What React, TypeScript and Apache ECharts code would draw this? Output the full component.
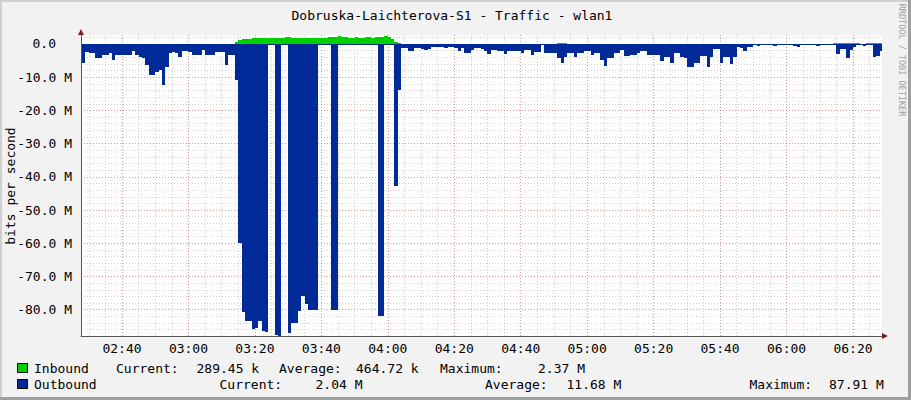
import React, { useEffect, useRef } from 'react';
import * as echarts from 'echarts';

// one sample per minute, first one at 02:28 (minutes since midnight)
const startMinute = 148;

// inbound traffic, Mbit/s
const inbound = [
    0.12, 0.1, 0.1, 0.11, 0.1, 0.12, 0.1, 0.1, 0.09, 0.1,
    0.1, 0.11, 0.1, 0.1, 0.12, 0.1, 0.1, 0.1, 0.11, 0.1,
    0.1, 0.12, 0.1, 0.1, 0.1, 0.11, 0.1, 0.1, 0.1, 0.12,
    0.1, 0.1, 0.11, 0.1, 0.1, 0.1, 0.12, 0.1, 0.1, 0.1,
    0.1, 0.1, 0.1, 0.12, 0.1, 0.1, 0.6, 1.3, 1.5, 1.6,
    1.6, 1.7, 1.7, 1.8, 1.8, 1.7, 1.7, 1.8, 1.8, 1.9,
    1.9, 2.0, 2.0, 1.9, 1.8, 1.8, 1.7, 1.7, 1.8, 1.8,
    1.8, 1.9, 1.9, 1.9, 2.0, 2.1, 2.2, 2.37, 2.2, 2.0,
    1.9, 1.9, 2.0, 1.9, 1.9, 2.0, 2.0, 1.9, 2.0, 2.0,
    2.1, 2.3, 2.2, 1.6, 0.5, 0.2, 0.1, 0.1, 0.12, 0.1,
    0.1, 0.1, 0.11, 0.1, 0.1, 0.12, 0.1, 0.1, 0.1, 0.11,
    0.1, 0.1, 0.12, 0.1, 0.1, 0.1, 0.11, 0.1, 0.1, 0.1,
    0.12, 0.1, 0.1, 0.1, 0.11, 0.1, 0.1, 0.12, 0.1, 0.1,
    0.1, 0.11, 0.1, 0.1, 0.1, 0.12, 0.1, 0.1, 0.1, 0.1,
    0.1, 0.1, 0.12, 0.3, 0.35, 0.15, 0.1, 0.1, 0.1, 0.1,
    0.1, 0.11, 0.1, 0.1, 0.12, 0.1, 0.1, 0.1, 0.11, 0.1,
    0.1, 0.12, 0.1, 0.1, 0.1, 0.11, 0.1, 0.1, 0.1, 0.12,
    0.1, 0.1, 0.11, 0.1, 0.1, 0.1, 0.12, 0.1, 0.1, 0.1,
    0.11, 0.1, 0.1, 0.12, 0.1, 0.1, 0.1, 0.11, 0.1, 0.1,
    0.1, 0.12, 0.1, 0.1, 0.1, 0.11, 0.1, 0.1, 0.12, 0.1,
    0.1, 0.1, 0.11, 0.1, 0.1, 0.1, 0.12, 0.1, 0.1, 0.1,
    0.11, 0.1, 0.1, 0.12, 0.1, 0.1, 0.1, 0.11, 0.1, 0.1,
    0.1, 0.1, 0.12, 0.1, 0.1, 0.1, 0.15, 0.2, 0.3, 0.35,
    0.4, 0.4, 0.3, 0.15, 0.1, 0.12, 0.2, 0.35, 0.4, 0.4,
    0.29,
];

// outbound traffic, Mbit/s (rrdtool draws it below zero)
const outbound = [
    5.8, 2.3, 2.8, 2.8, 4.3, 4.2, 3.3, 3.3, 2.8, 4.8,
    3.3, 3.3, 3.4, 3.3, 3.3, 2.0, 3.3, 4.0, 4.2, 6.3,
    9.3, 9.2, 8.3, 7.8, 12.3, 6.8, 2.6, 2.4, 2.7, 4.0,
    2.0, 2.0, 2.4, 3.3, 3.3, 3.2, 1.8, 3.3, 3.3, 3.2,
    2.3, 2.4, 2.3, 6.3, 3.3, 3.3, 10.8, 59.8, 80.8, 83.3,
    83.5, 85.8, 85.5, 83.3, 86.3, 86.8, 0.3, 0.3, 87.6, 87.91,
    0.3, 0.3, 86.9, 84.0, 84.0, 80.3, 75.8, 78.3, 80.1, 80.1,
    80.1, 0.3, 0.3, 0.3, 0.3, 80.0, 80.0, 0.3, 0.3, 0.3,
    0.3, 0.3, 0.3, 0.3, 0.3, 0.3, 0.3, 0.3, 0.3, 82.0,
    82.0, 0.3, 0.3, 0.3, 42.8, 14.0, 1.3, 1.3, 2.0, 2.0,
    1.3, 1.3, 1.5, 1.8, 1.5, 1.0, 1.0, 1.0, 1.0, 1.1,
    0.9, 1.0, 1.2, 2.0, 1.3, 2.8, 2.6, 1.8, 1.3, 1.3,
    1.5, 2.0, 3.0, 1.8, 1.8, 2.0, 2.0, 3.0, 2.0, 2.0,
    2.1, 2.0, 2.6, 1.8, 1.8, 3.3, 2.3, 2.3, 0.3, 2.6,
    2.6, 2.6, 2.7, 4.3, 5.8, 3.8, 2.8, 2.8, 4.0, 2.6,
    2.6, 2.0, 2.0, 3.3, 2.6, 2.6, 4.8, 6.6, 4.3, 4.3,
    2.8, 2.8, 1.8, 3.6, 3.6, 3.3, 3.3, 2.8, 2.0, 2.0,
    3.3, 3.3, 3.3, 3.3, 5.0, 3.8, 3.8, 5.6, 2.8, 2.8,
    4.0, 4.3, 7.0, 7.0, 5.8, 5.8, 3.6, 3.6, 6.8, 3.8,
    1.6, 1.6, 5.8, 3.8, 3.8, 6.0, 3.8, 0.8, 1.3, 2.0,
    0.8, 0.8, 0.4, 0.5, 0.4, 0.4, 0.3, 0.4, 0.5, 0.4,
    0.4, 0.3, 0.4, 0.4, 0.5, 1.0, 0.4, 0.4, 0.3, 0.4,
    0.4, 0.5, 0.4, 0.4, 0.3, 0.4, 0.4, 3.0, 1.6, 1.6,
    4.3, 1.8, 1.0, 0.4, 0.4, 0.5, 0.4, 0.4, 4.0, 3.5,
    2.04,
];

const inboundStats = ['289.45 k', '464.72 k', '2.37 M'];
const outboundStats = ['2.04 M', '11.68 M', '87.91 M'];

// visible window: 02:27:40 .. 06:28:44, and the y range rrdtool picked
const xMin = 147.66;
const xMax = 388.73;
const yMin = -87.91;
const yMax = 2.7;

const mono = "'DejaVu Sans Mono', monospace";

const pad = (n: number) => String(n).padStart(2, '0');
const isStep = (v: number, step: number) => Math.abs(v - Math.round(v / step) * step) < 1e-6;

const toSeries = (values: number[], sign: number) => values.map((v, i) => [startMinute + i, sign * v]);

// rrdtool AREA: each sample fills its whole minute, snapped to pixels
function stepArea(color: string) {
    return (params: any, api: any) => {
        const t = api.value(0);
        const v = api.value(1);
        const a = api.coord([t, 0]);
        const b = api.coord([t + 1, v]);
        const x0 = Math.round(a[0]);
        const x1 = Math.round(b[0]);
        const y0 = Math.round(a[1]);
        const y1 = Math.round(b[1]);
        return {
            type: 'rect',
            shape: { x: x0, y: Math.min(y0, y1), width: x1 - x0, height: Math.abs(y1 - y0) },
            style: { fill: color },
        };
    };
}

const majorGrid = {
    show: true,
    showMinLine: false,
    showMaxLine: false,
    lineStyle: { color: 'rgba(222,79,79,0.45)', width: 1, type: [1, 2] },
};
const minorGrid = {
    show: true,
    showMinLine: false,
    showMaxLine: false,
    lineStyle: { color: 'rgba(143,143,143,0.4)', width: 1, type: [1, 2] },
};

function legendRow(y: number, color: string, name: string, cols: [string, number][]) {
    const txt = (text: string, x: number) => ({
        type: 'text',
        x,
        y,
        style: {
            text,
            fill: '#000',
            font: `13px ${mono}`,
            align: 'left',
            verticalAlign: 'middle',
            textAlign: 'left',
            textVerticalAlign: 'middle',
        },
    });
    return [
        {
            type: 'rect',
            shape: { x: 17.5, y: y - 4.5, width: 10, height: 9 },
            style: { fill: color, stroke: '#000', lineWidth: 1 },
        },
        txt(name, 34),
        ...cols.map(([t, x]) => txt(t, x)),
    ];
}

export default function App() {
    const chartRef = useRef<HTMLDivElement>(null);

    useEffect(() => {
        const chart = echarts.init(chartRef.current!, undefined, { renderer: 'svg' });

        chart.setOption({
            animation: false,
            backgroundColor: '#f2f2f2',
            grid: {
                left: 81,
                top: 35,
                width: 801,
                height: 301,
                show: true,
                backgroundColor: '#fff',
                borderWidth: 0,
            },
            xAxis: [
                {
                    type: 'value',
                    position: 'bottom',
                    min: xMin,
                    max: xMax,
                    splitNumber: 12,
                    z: 4,
                    axisLine: { show: true, onZero: false, lineStyle: { color: '#555', width: 1 } },
                    axisTick: { show: false },
                    axisLabel: {
                        margin: 6,
                        color: '#000',
                        fontFamily: mono,
                        fontSize: 13,
                        formatter: (v: number) =>
                            isStep(v, 20) ? `${pad(Math.floor(v / 60))}:${pad(Math.round(v) % 60)}` : '',
                    },
                    splitLine: majorGrid,
                },
                {
                    type: 'value',
                    position: 'bottom',
                    min: xMin,
                    max: xMax,
                    splitNumber: 48,
                    z: 3,
                    axisLine: { show: false },
                    axisTick: { show: false },
                    axisLabel: { show: false },
                    splitLine: minorGrid,
                },
            ],
            yAxis: [
                {
                    type: 'value',
                    position: 'left',
                    min: yMin,
                    max: yMax,
                    splitNumber: 9,
                    z: 4,
                    axisLine: { show: true, onZero: false, lineStyle: { color: '#555', width: 1 } },
                    axisTick: { show: false },
                    axisLabel: {
                        margin: 9,
                        color: '#000',
                        fontFamily: mono,
                        fontSize: 13,
                        formatter: (v: number) => {
                            if (!isStep(v, 10)) return '';
                            if (Math.abs(v) < 1e-6) return '{z|0.0}';
                            return `${v.toFixed(1)} M`;
                        },
                        rich: {
                            z: { padding: [0, 16, 0, 0], fontFamily: mono, fontSize: 13, color: '#000' },
                        },
                    },
                    splitLine: majorGrid,
                },
                {
                    type: 'value',
                    position: 'left',
                    min: yMin,
                    max: yMax,
                    splitNumber: 45,
                    z: 3,
                    axisLine: { show: false },
                    axisTick: { show: false },
                    axisLabel: { show: false },
                    splitLine: minorGrid,
                },
            ],
            series: [
                {
                    name: 'Inbound',
                    type: 'custom',
                    clip: true,
                    encode: { x: 0, y: 1 },
                    data: toSeries(inbound, 1),
                    renderItem: stepArea('#00cf00'),
                    z: 6,
                },
                {
                    name: 'Outbound',
                    type: 'custom',
                    clip: true,
                    encode: { x: 0, y: 1 },
                    data: toSeries(outbound, -1),
                    renderItem: stepArea('#002a97'),
                    z: 6,
                },
            ],
            graphic: [
                { type: 'rect', shape: { x: 0, y: 0, width: 911, height: 2 }, style: { fill: '#cfcfcf' } },
                { type: 'rect', shape: { x: 0, y: 0, width: 2, height: 400 }, style: { fill: '#cfcfcf' } },
                { type: 'rect', shape: { x: 908, y: 0, width: 3, height: 400 }, style: { fill: '#9e9e9e' } },
                { type: 'rect', shape: { x: 0, y: 397, width: 911, height: 3 }, style: { fill: '#9e9e9e' } },
                {
                    type: 'polygon',
                    shape: { points: [[81, 29], [78, 35], [84, 35]] },
                    style: { fill: '#801f1f' },
                    z: 10,
                },
                {
                    type: 'polygon',
                    shape: { points: [[888, 336], [882, 333], [882, 339]] },
                    style: { fill: '#801f1f' },
                    z: 10,
                },
                {
                    type: 'text',
                    x: 452,
                    y: 15,
                    style: {
                        text: 'Dobruska-Laichterova-S1 - Traffic - wlan1',
                        fill: '#000',
                        font: `13px ${mono}`,
                        align: 'center',
                        verticalAlign: 'middle',
                        textAlign: 'center',
                        textVerticalAlign: 'middle',
                    },
                },
                {
                    type: 'text',
                    x: 10,
                    y: 186,
                    rotation: Math.PI / 2,
                    style: {
                        text: 'bits per second',
                        fill: '#000',
                        font: `13px ${mono}`,
                        align: 'center',
                        verticalAlign: 'middle',
                        textAlign: 'center',
                        textVerticalAlign: 'middle',
                    },
                },
                {
                    type: 'text',
                    x: 902,
                    y: 60,
                    rotation: -Math.PI / 2,
                    style: {
                        text: 'RRDTOOL / TOBI OETIKER',
                        fill: '#a0a0a0',
                        font: `8.5px ${mono}`,
                        align: 'center',
                        verticalAlign: 'middle',
                        textAlign: 'center',
                        textVerticalAlign: 'middle',
                    },
                },
                ...legendRow(368, '#00cf00', 'Inbound', [
                    ['Current:', 116],
                    [inboundStats[0], 196.5],
                    ['Average:', 279],
                    [inboundStats[1], 356],
                    ['Maximum:', 440],
                    [inboundStats[2], 538],
                ]),
                ...legendRow(384, '#002a97', 'Outbound', [
                    ['Current:', 219.5],
                    [outboundStats[0], 315.5],
                    ['Average:', 485],
                    [outboundStats[1], 566.5],
                    ['Maximum:', 749.5],
                    [outboundStats[2], 829],
                ]),
            ],
        });

        return () => {
            chart.dispose();
        };
    }, []);

    return <div ref={chartRef} style={{ position: 'absolute', left: 0, top: 0, width: 911, height: 400 }} />;
}
